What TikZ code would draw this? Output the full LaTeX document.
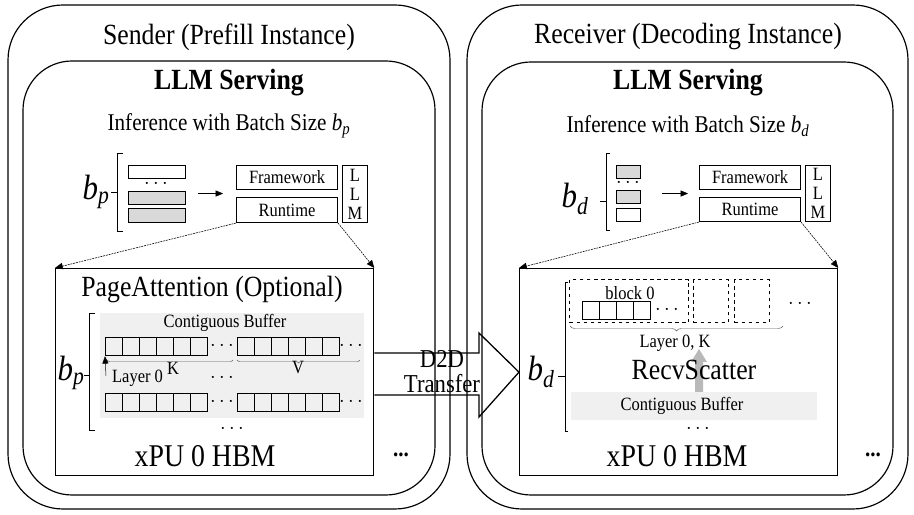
\documentclass[tikz,border=0pt]{standalone}
\usepackage{fontspec}
\setmainfont{Liberation Serif}[FakeStretch=0.88]
\usepackage{tikz}
\usetikzlibrary{arrows}
\usetikzlibrary{decorations.pathreplacing}
\usetikzlibrary{calc,positioning}
\newcommand{\fsBig}{\fontsize{25}{25}\selectfont}
\newcommand{\fsHbm}{\fontsize{27}{27}\selectfont}
\newcommand{\fsMid}{\fontsize{20.5}{22}\selectfont}
\newcommand{\fsSmall}{\fontsize{16}{16.2}\selectfont}
\newcommand{\fsB}{\fontsize{30}{30}\selectfont}
\newcommand{\bsz}[1]{\textit{b}\textsubscript{\textit{#1}}}
\tikzset{
  pbox/.style 2 args={draw, inner sep=0pt, anchor=north west,
    minimum width=#1*0.03cm, minimum height=#2*0.03cm},
  cell/.style={pbox={17}{18}, line width=1.1pt},
  inst/.style={line width=1pt, rounded corners=1.65cm},
  serv/.style={line width=1pt, rounded corners=1.47cm},
  zoomto/.style={dash pattern=on 1.6pt off 0.8pt, line width=0.5pt, -triangle 45},
  kvbrace/.style={decorate, decoration={brace, mirror, amplitude=0.09cm}, gray!70!black},
}

\begin{document}
\begin{tikzpicture}[x=0.03cm, y=-0.03cm]
\useasboundingbox (0,0) rectangle (914,515);

%% instances and serving boxes
\draw[inst] (8,5) rectangle (450,509);
\draw[serv] (23,61) rectangle (435,495);
\draw[inst] (467,5) rectangle (908,509);
\draw[serv] (482,62) rectangle (893,495);

\node[font=\fsBig] (sndT) at (229,37) {Sender (Prefill Instance)};
\node[font=\fsBig] (rcvT) at (688,37) {Receiver (Decoding Instance)};
\node[font=\fsBig\bfseries] (srvL) at (229,83) {LLM Serving};
\node[font=\fsBig\bfseries] (srvR) at (688,83) {LLM Serving};
\node[font=\fsMid] (infL) at (229,126) {Inference with Batch Size \bsz{p}};
\node[font=\fsMid] (infR) at (688,126) {Inference with Batch Size \bsz{d}};

%% sender batch
\node[pbox={57}{13}] (rqL1) at (128,165) {};
\node[font=\fsSmall] (dtL) at (156,184) {$\cdots$};
\node[pbox={57}{13}, fill=gray!30] (rqL2) at (128,191) {};
\node[pbox={57}{14}, fill=gray!30] (rqL3) at (128,208) {};
\draw (123,153) -- (117,153) -- (117,231) -- (123,231) (117,192) -- (111,192);
\node[font=\fsB] (bpL) at (96,192) {\bsz{p}};

\node[pbox={101}{24}, line width=0.9pt, font=\fsSmall] (fwL) at (236,165) {Framework};
\node[pbox={101}{25}, line width=0.9pt, font=\fsSmall] (rtL) at (236,197) {Runtime};
\node[pbox={25}{57}, line width=0.9pt, font=\fsSmall, align=center] (lmL) at (342,165) {L\\L\\M};
\coordinate (mdL) at ($(fwL.south west)!0.5!(rtL.north west)$);
\draw[-triangle 45, shorten <=0.39cm, shorten >=0.39cm] (rqL1.east |- mdL) -- (mdL);

%% receiver batch
\node[pbox={24}{13}, fill=gray!30] (rqR1) at (616,165) {};
\node[font=\fsSmall] (dtR) at (628,183) {$\cdots$};
\node[pbox={24}{13}, fill=gray!30] (rqR2) at (616,190) {};
\node[pbox={24}{13}] (rqR3) at (616,208) {};
\draw (610,153) -- (606,153) -- (606,230) -- (610,230) (606,201) -- (600,201);
\node[font=\fsB] (bdR) at (575,199) {\bsz{d}};

\node[pbox={101}{24}, line width=0.9pt, font=\fsSmall] (fwR) at (699,165) {Framework};
\node[pbox={101}{24}, line width=0.9pt, font=\fsSmall] (rtR) at (699,197) {Runtime};
\node[pbox={25}{56}, line width=0.9pt, font=\fsSmall, align=center] (lmR) at (805,165) {L\\L\\M};
\coordinate (mdR) at ($(fwR.south west)!0.5!(rtR.north west)$);
\draw[-triangle 45, shorten <=0.66cm, shorten >=0.33cm] (rqR1.east |- mdR) -- (mdR);

%% sender HBM
\node[pbox={264}{105}, draw=none, fill=gray!12] (bufL) at (100,313) {};
\node[pbox={318}{207}, line width=1.1pt] (hbmL) at (55,268) {};
\node[font=\fsBig] (paL) at (212,290) {PageAttention (Optional)};
\node[font=\fsSmall, inner sep=0pt] (cbL) at (225,323) {Contiguous Buffer};
\foreach \r/\yy in {a/337, b/393} {
  \foreach \i in {0,...,5} {
    \node[cell] (k\r\i) at (105+17*\i,\yy) {};
    \node[cell] (v\r\i) at (237+17*\i,\yy) {};
  }
  \node[font=\fsSmall] (dk\r) at (222,\yy+9) {$\cdots$};
  \node[font=\fsSmall] (dv\r) at (351,\yy+9) {$\cdots$};
}
\draw[kvbrace] (107,360) -- (233,360);
\draw[kvbrace] (237,360) -- (360,360);
\node[font=\fsSmall] (kL) at (173,368) {K};
\node[font=\fsSmall] (vL) at (298,368) {V};
\draw[-triangle 45] (106,376) -- (ka0.south west);
\node[font=\fsSmall, anchor=west] (lyL) at (108,378) {Layer 0};
\node[font=\fsSmall] (dmL) at (222,378) {$\cdots$};
\node[font=\fsSmall] (dbL) at (232,429) {$\cdots$};
\draw (95,313) -- (89,313) -- (89,430) -- (95,430) (89,375) -- (84,375);
\node[font=\fsB] (bpH) at (71,373) {\bsz{p}};
\node[font=\fsHbm] (xpL) at (205,456) {xPU 0 HBM};
\node[font=\fsMid\bfseries] (moL) at (401,455) {...};

%% receiver HBM
\node[pbox={318}{207}, line width=1.1pt] (hbmR) at (519,268) {};
\node[pbox={119}{43}, dashed, line width=1pt] (blk0) at (569,279) {};
\node[pbox={35}{43}, dashed, line width=1pt] (blk1) at (693,279) {};
\node[pbox={35}{43}, dashed, line width=1pt] (blk2) at (734,279) {};
\node[font=\fsSmall] (bkT) at (630,293) {block 0};
\foreach \i in {0,...,3}
  \node[cell] (c\i) at (582+17*\i,301) {};
\node[font=\fsSmall] (dcR) at (667,310) {$\cdots$};
\node[font=\fsSmall] (dbR) at (800,304) {$\cdots$};
\draw[kvbrace, decoration={amplitude=0.15cm}] (570,326) -- (783,326);
\node[font=\fsSmall] (lkR) at (675,343) {Layer 0, K};
\node[pbox={246}{28}, draw=none, fill=gray!12] (bufR) at (571,392) {};
\node[font=\fsSmall] (cbR) at (682,406) {Contiguous Buffer};
\fill[gray!55] (695,392) -- (695,362) -- (691,362) -- (699,349) -- (707,362) -- (703,362) -- (703,392) -- cycle;
\node[font=\fsBig] (rsR) at (694,370) {RecvScatter};
\node[font=\fsSmall] (dvR) at (698,429) {$\cdots$};
\draw (568,282) -- (565,282) -- (565,431) -- (568,431) (565,376) -- (558,376);
\node[font=\fsB] (bdH) at (541,372) {\bsz{d}};
\node[font=\fsHbm] (xpR) at (677,456) {xPU 0 HBM};
\node[font=\fsMid\bfseries] (moR) at (873,455) {...};

%% zoom-in connectors
\draw[zoomto] (rtL.south west) -- (hbmL.north west);
\draw[zoomto] (rtL.south east) -- (hbmL.north east);
\draw[zoomto] (rtR.south west) -- (hbmR.north west);
\draw[zoomto] (rtR.south east) -- (hbmR.north east);

%% D2D transfer
\draw[line width=1.1pt] (hbmL.east |- 0,353) -- (479,353) -- (479,333) -- (hbmR.west) -- (479,417) -- (479,395) -- (hbmL.east |- 0,395);
\node[font=\fontsize{22}{22}\selectfont, inner sep=0pt, anchor=base] (d2dA) at (442,368) {D2D};
\node[font=\fontsize{22}{22}\selectfont, inner sep=0pt, anchor=base] (d2dB) at (442,393) {Transfer};
\end{tikzpicture}
\end{document}
